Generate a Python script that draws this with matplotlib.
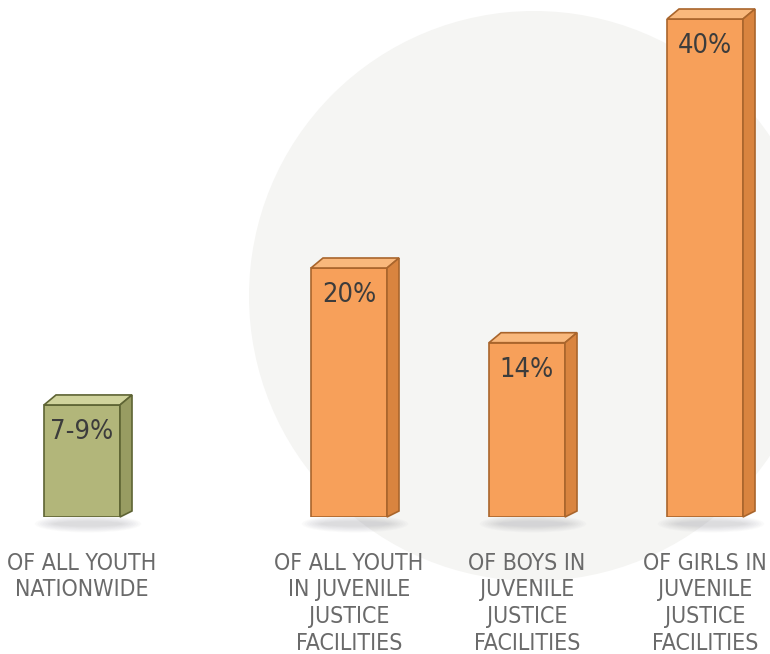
import matplotlib
matplotlib.use("Agg")
import matplotlib.pyplot as plt
from matplotlib.patches import Polygon, Ellipse, Circle
from matplotlib import font_manager

# data
categories = ["OF ALL YOUTH\nNATIONWIDE",
              "OF ALL YOUTH\nIN JUVENILE\nJUSTICE\nFACILITIES",
              "OF BOYS IN\nJUVENILE\nJUSTICE\nFACILITIES",
              "OF GIRLS IN\nJUVENILE\nJUSTICE\nFACILITIES"]
values = [9, 20, 14, 40]
value_labels = ["7-9%", "20%", "14%", "40%"]
positions = [0, 1.5, 2.5, 3.5]

# look for a narrow/condensed face, the reference uses one
narrow_file = None
for f in font_manager.fontManager.ttflist:
    fn = f.fname.lower()
    if ("condensed" in fn or "narrow" in fn) and "bold" not in fn and "italic" not in fn \
            and "oblique" not in fn and "light" not in fn:
        narrow_file = f.fname
        break

if narrow_file:
    lab_font = dict(fontproperties=font_manager.FontProperties(fname=narrow_file, size=16.6))
    val_font = dict(fontproperties=font_manager.FontProperties(fname=narrow_file, size=19.5))
else:
    lab_font = dict(family="Roboto", size=16)
    val_font = dict(family="Roboto", size=19)

# front, top, side, edge colours
olive = ("#b2b67a", "#d0d39c", "#989c62", "#5e6434")
orange = ("#f7a05a", "#f9b87c", "#d9843f", "#a9652c")
styles = [olive, orange, orange, orange]

fig = plt.figure(figsize=(7.7, 6.54), dpi=100)
fig.patch.set_facecolor("white")

# background circle
bg = fig.add_axes([0, 0, 1, 1])
bg.set_xlim(0, 770)
bg.set_ylim(654, 0)
bg.axis("off")
bg.add_patch(Circle((534, 296), 285, color="#f5f5f3", lw=0))

ax = fig.add_axes([0, (654 - 517) / 654, 1, (517 - 19) / 654])
ax.patch.set_alpha(0)
ax.set_xlim(-82 / 178, (770 - 82) / 178)
ax.set_ylim(0, 40)
ax.axis("off")

width = 76 / 178
dx = 12 / 178
dy = 10 / 12.45

for x, v, st, lab, cat in zip(positions, values, styles, value_labels, categories):
    front, top, side, edge = st
    # soft shadow under the bar
    for k in range(8):
        ax.add_patch(Ellipse((x + dx / 2, -0.55), width * (1.4 - k * 0.07),
                             1.4 - k * 0.14, color="#80808c", alpha=0.035,
                             lw=0, clip_on=False, zorder=1))
    ax.bar(x, v, width=width, color=front, edgecolor=edge, linewidth=1.2, zorder=3)
    l, r = x - width / 2, x + width / 2
    ax.add_patch(Polygon([(l, v), (l + dx, v + dy), (r + dx, v + dy), (r, v)],
                         closed=True, facecolor=top, edgecolor=edge, lw=1.2,
                         zorder=3, clip_on=False))
    ax.add_patch(Polygon([(r, 0), (r + dx, dy * 0.6), (r + dx, v + dy), (r, v)],
                         closed=True, facecolor=side, edgecolor=edge, lw=1.2,
                         zorder=3, clip_on=False))
    ax.text(x, v - 2.75, lab, ha="center", va="baseline",
            color="#3c3c3c", zorder=4, **val_font)
    ax.text(x, -2.8, cat, ha="center", va="top",
            color="#6a6a6a", linespacing=1.2, clip_on=False, **lab_font)

fig.savefig("out.png", dpi=100, facecolor="white")
